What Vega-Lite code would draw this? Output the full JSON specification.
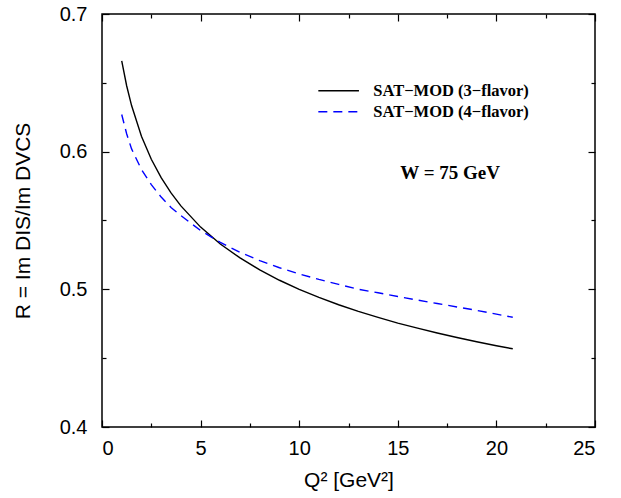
{
  "$schema": "https://vega.github.io/schema/vega-lite/v6.json",
  "width": 493,
  "height": 413,
  "autosize": {"type": "none"},
  "padding": {"left": 102, "top": 14, "right": 26, "bottom": 71},
  "background": "white",
  "config": {
    "view": {"stroke": "black", "strokeWidth": 1.5},
    "axis": {
      "labelFont": "Liberation Sans",
      "titleFont": "Liberation Sans",
      "labelFontSize": 20,
      "titleFontSize": 21,
      "titleFontWeight": "normal",
      "labelColor": "black",
      "titleColor": "black",
      "tickColor": "black",
      "tickWidth": 1.2,
      "domain": false,
      "grid": false
    }
  },
  "datasets": {
    "curves": [
      {"q2": 1.0, "r": 0.666, "s": "3"},
      {"q2": 1.25, "r": 0.6479, "s": "3"},
      {"q2": 1.5, "r": 0.6335, "s": "3"},
      {"q2": 2.0, "r": 0.6112, "s": "3"},
      {"q2": 2.5, "r": 0.5945, "s": "3"},
      {"q2": 3.0, "r": 0.5811, "s": "3"},
      {"q2": 3.5, "r": 0.57, "s": "3"},
      {"q2": 4.0, "r": 0.5606, "s": "3"},
      {"q2": 5.0, "r": 0.5452, "s": "3"},
      {"q2": 6.0, "r": 0.5329, "s": "3"},
      {"q2": 7.0, "r": 0.5228, "s": "3"},
      {"q2": 8.0, "r": 0.5141, "s": "3"},
      {"q2": 9.0, "r": 0.5066, "s": "3"},
      {"q2": 10.0, "r": 0.5, "s": "3"},
      {"q2": 11.0, "r": 0.4942, "s": "3"},
      {"q2": 12.0, "r": 0.4888, "s": "3"},
      {"q2": 13.0, "r": 0.484, "s": "3"},
      {"q2": 14.0, "r": 0.4796, "s": "3"},
      {"q2": 15.0, "r": 0.4755, "s": "3"},
      {"q2": 16.0, "r": 0.4718, "s": "3"},
      {"q2": 17.0, "r": 0.4683, "s": "3"},
      {"q2": 18.0, "r": 0.465, "s": "3"},
      {"q2": 19.0, "r": 0.4619, "s": "3"},
      {"q2": 20.0, "r": 0.459, "s": "3"},
      {"q2": 20.83, "r": 0.4568, "s": "3"},
      {"q2": 1.0, "r": 0.627, "s": "4"},
      {"q2": 1.25, "r": 0.613, "s": "4"},
      {"q2": 1.5, "r": 0.602, "s": "4"},
      {"q2": 2.0, "r": 0.587, "s": "4"},
      {"q2": 2.5, "r": 0.576, "s": "4"},
      {"q2": 3.0, "r": 0.567, "s": "4"},
      {"q2": 3.5, "r": 0.5595, "s": "4"},
      {"q2": 4.0, "r": 0.5536, "s": "4"},
      {"q2": 5.0, "r": 0.5427, "s": "4"},
      {"q2": 6.0, "r": 0.5341, "s": "4"},
      {"q2": 7.0, "r": 0.5269, "s": "4"},
      {"q2": 8.0, "r": 0.5208, "s": "4"},
      {"q2": 9.0, "r": 0.5157, "s": "4"},
      {"q2": 10.0, "r": 0.5112, "s": "4"},
      {"q2": 11.0, "r": 0.5072, "s": "4"},
      {"q2": 12.0, "r": 0.5036, "s": "4"},
      {"q2": 13.0, "r": 0.5, "s": "4"},
      {"q2": 14.0, "r": 0.4975, "s": "4"},
      {"q2": 15.0, "r": 0.4948, "s": "4"},
      {"q2": 16.0, "r": 0.4922, "s": "4"},
      {"q2": 17.0, "r": 0.4897, "s": "4"},
      {"q2": 18.0, "r": 0.4872, "s": "4"},
      {"q2": 19.0, "r": 0.4847, "s": "4"},
      {"q2": 20.0, "r": 0.482, "s": "4"},
      {"q2": 20.83, "r": 0.4797, "s": "4"}
    ],
    "legend": [
      {"x": 10.97, "x2": 13.03, "y": 0.6443, "tx": 13.76, "s": "3", "label": "SAT−MOD (3−flavor)"},
      {"x": 10.97, "x2": 13.03, "y": 0.629, "tx": 13.76, "s": "4", "label": "SAT−MOD (4−flavor)"}
    ],
    "note": [
      {"x": 17.65, "y": 0.5847, "label": "W = 75 GeV"}
    ]
  },
  "layer": [
    {
      "data": {"name": "curves"},
      "transform": [{"filter": "datum.s === '3'"}],
      "mark": {"type": "line", "color": "black", "strokeWidth": 1.4},
      "encoding": {
        "x": {"field": "q2", "type": "quantitative", "scale": {"domain": [0, 25], "nice": false},
              "axis": {"orient": "bottom", "values": [0, 5, 10, 15, 20, 25], "tickSize": -7, "labelPadding": 18, "title": "Q² [GeV²]", "titlePadding": 11}},
        "y": {"field": "r", "type": "quantitative", "scale": {"domain": [0.4, 0.7], "nice": false, "zero": false},
              "axis": {"orient": "left", "values": [0.4, 0.5, 0.6, 0.7], "format": ".1f", "tickSize": -7, "labelPadding": 22, "title": "R = Im DIS/Im DVCS", "titlePadding": 26}}
      }
    },
    {
      "data": {"name": "curves"},
      "transform": [{"filter": "datum.s === '4'"}],
      "mark": {"type": "line", "color": "#0000ff", "strokeWidth": 1.4, "strokeDash": [9, 6]},
      "encoding": {
        "x": {"field": "q2", "type": "quantitative",
              "axis": {"orient": "top", "values": [0, 5, 10, 15, 20, 25], "tickSize": -7, "labels": false, "title": null}},
        "y": {"field": "r", "type": "quantitative",
              "axis": {"orient": "right", "values": [0.4, 0.5, 0.6, 0.7], "tickSize": -7, "labels": false, "title": null}}
      }
    },
    {
      "data": {"name": "legend"},
      "mark": {"type": "rule", "strokeWidth": 1.4},
      "encoding": {
        "x": {"field": "x", "type": "quantitative",
              "axis": {"orient": "bottom", "values": [2.5, 7.5, 12.5, 17.5, 22.5], "tickSize": -4, "labels": false, "title": null}},
        "x2": {"field": "x2"},
        "y": {"field": "y", "type": "quantitative",
              "axis": {"orient": "left", "values": [0.45, 0.55, 0.65], "tickSize": -4, "labels": false, "title": null}},
        "color": {"field": "s", "type": "nominal", "scale": {"domain": ["3", "4"], "range": ["black", "#0000ff"]}, "legend": null},
        "strokeDash": {"field": "s", "type": "nominal", "scale": {"domain": ["3", "4"], "range": [[1, 0], [9, 6]]}, "legend": null}
      }
    },
    {
      "data": {"name": "legend"},
      "mark": {"type": "text", "align": "left", "baseline": "middle", "font": "Liberation Serif", "fontWeight": "bold", "fontSize": 16.5, "color": "black"},
      "encoding": {
        "x": {"field": "tx", "type": "quantitative",
              "axis": {"orient": "top", "values": [2.5, 7.5, 12.5, 17.5, 22.5], "tickSize": -4, "labels": false, "title": null}},
        "y": {"field": "y", "type": "quantitative",
              "axis": {"orient": "right", "values": [0.45, 0.55, 0.65], "tickSize": -4, "labels": false, "title": null}},
        "text": {"field": "label"}
      }
    },
    {
      "data": {"name": "note"},
      "mark": {"type": "text", "align": "center", "baseline": "middle", "font": "Liberation Serif", "fontWeight": "bold", "fontSize": 19, "color": "black"},
      "encoding": {
        "x": {"field": "x", "type": "quantitative", "axis": null},
        "y": {"field": "y", "type": "quantitative", "axis": null},
        "text": {"field": "label"}
      }
    }
  ],
  "resolve": {"axis": {"x": "independent", "y": "independent"}}
}
